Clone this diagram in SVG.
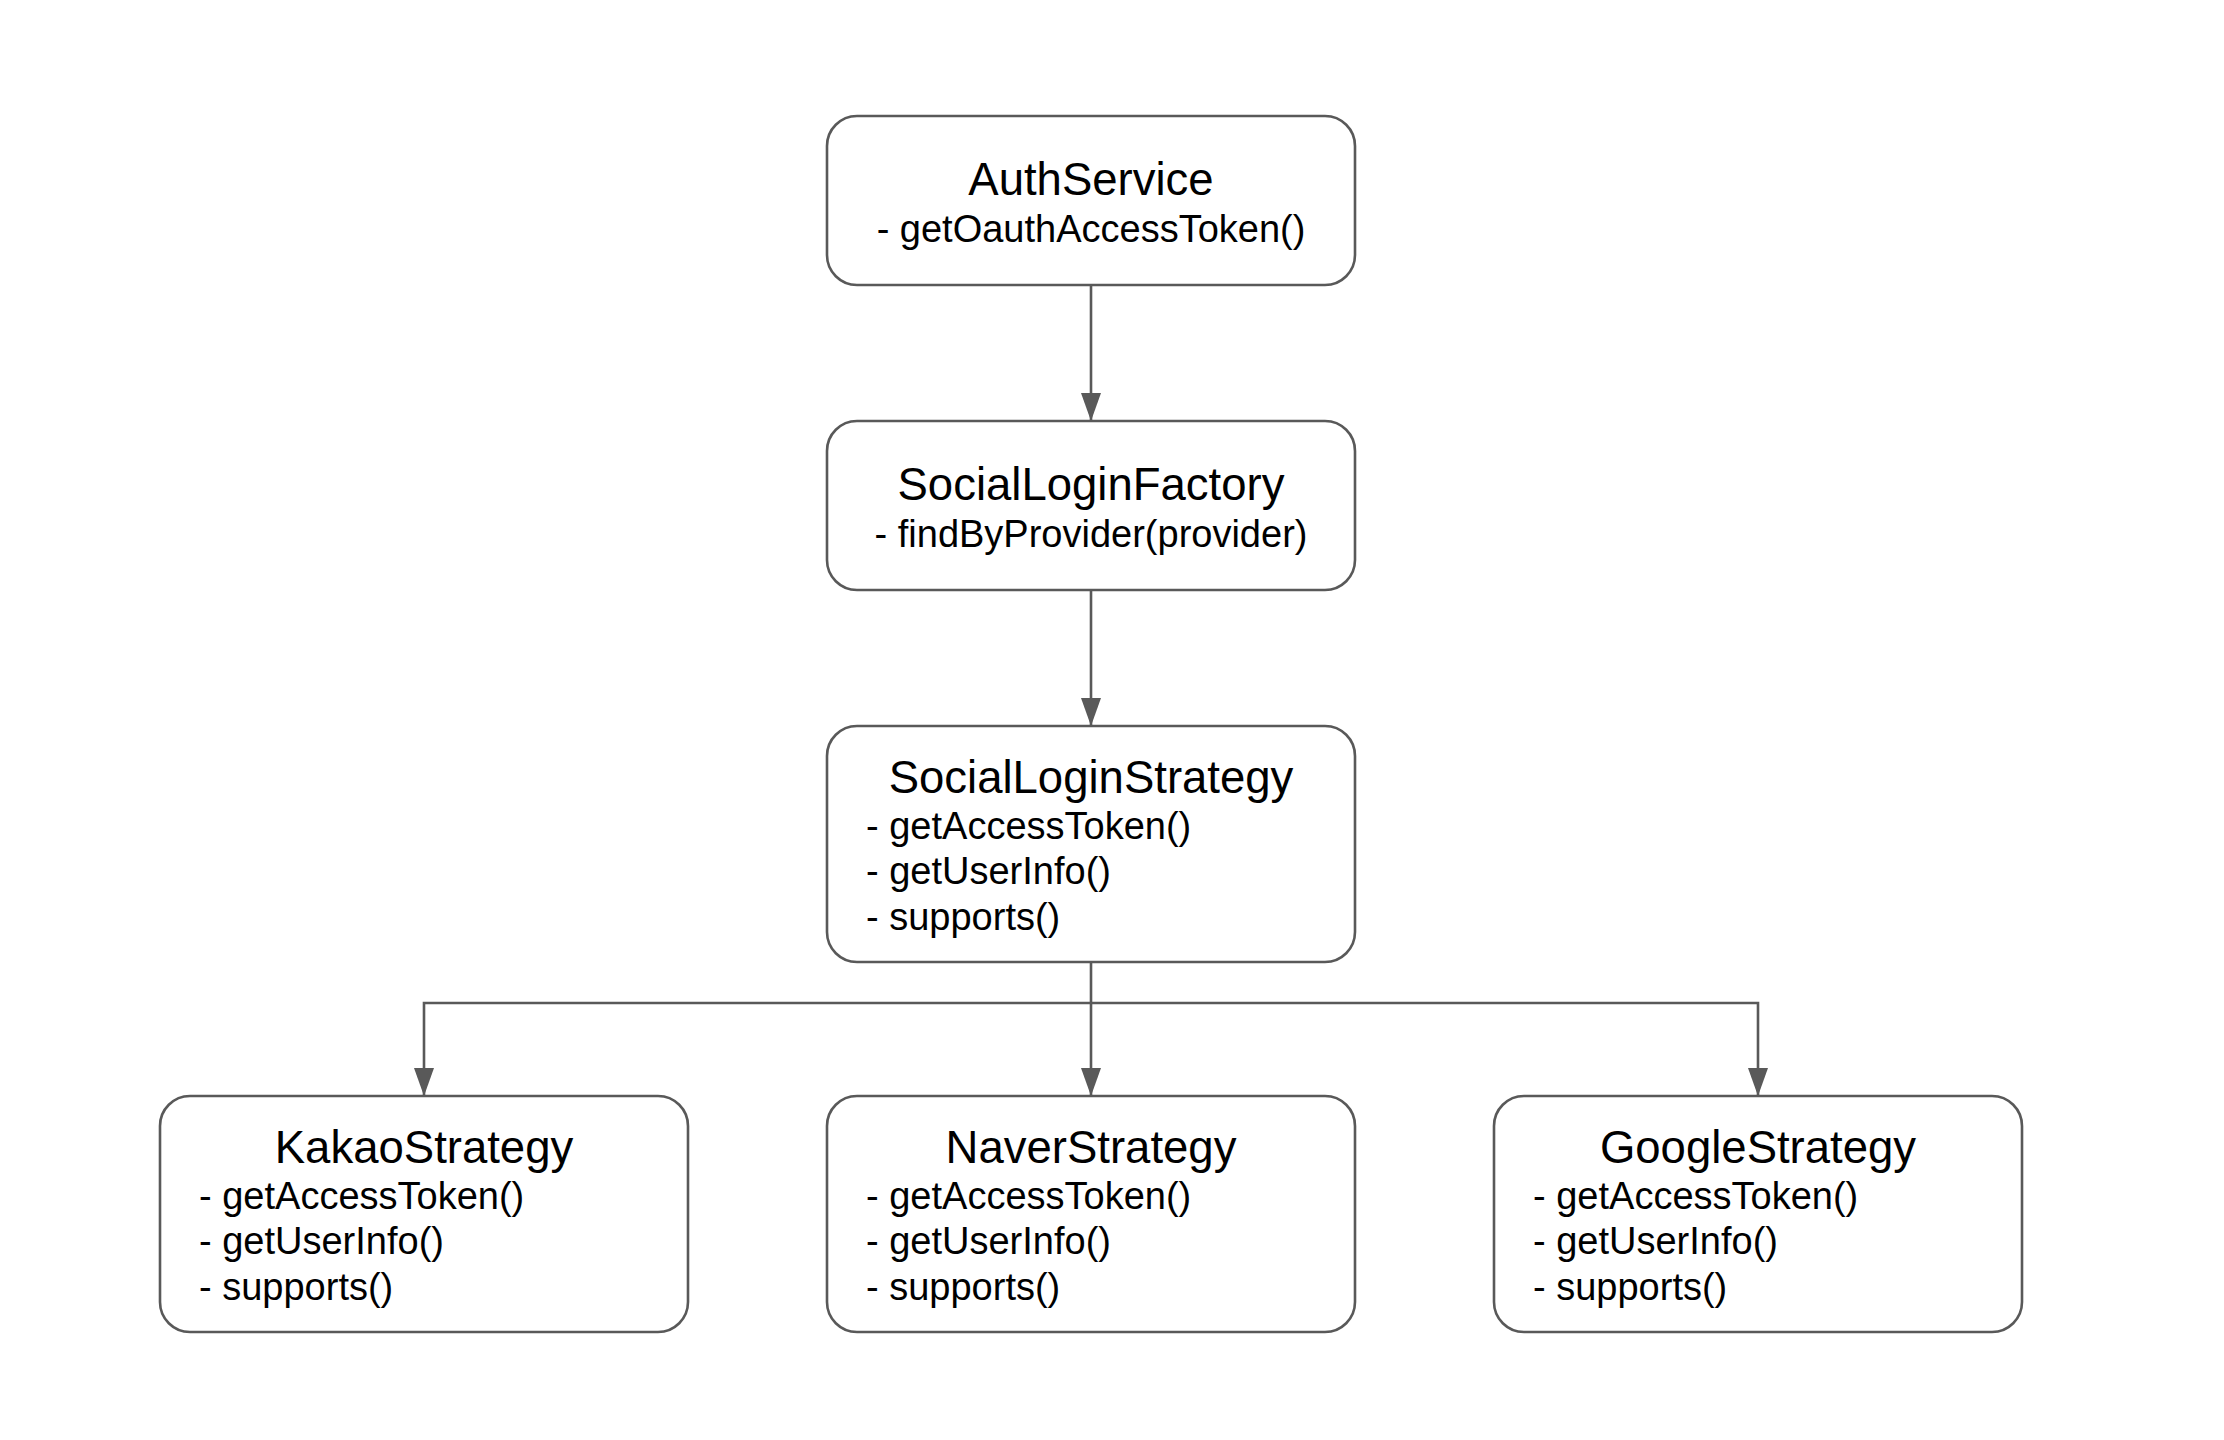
<svg xmlns="http://www.w3.org/2000/svg" width="2224" height="1440" viewBox="0 0 2224 1440">
<defs>
<style>
.box{fill:#ffffff;stroke:#595959;stroke-width:2.6}
.edge{fill:none;stroke:#595959;stroke-width:2.6}
.title{font-family:"Liberation Sans",Arial,sans-serif;font-size:45.5px;fill:#000000;text-anchor:middle}
.sub{font-family:"Liberation Sans",Arial,sans-serif;font-size:38px;fill:#000000;text-anchor:middle}
.m{font-family:"Liberation Sans",Arial,sans-serif;font-size:38px;fill:#000000}
</style>
<marker id="arr" markerUnits="userSpaceOnUse" markerWidth="28" markerHeight="20" refX="27" refY="10" viewBox="0 0 28 20" orient="auto">
<path d="M0,0 L28,10 L0,20 Z" fill="#595959"/>
</marker>
</defs>
<rect width="2224" height="1440" fill="#ffffff"/>
<g id="connectors">
<path class="edge" d="M1091,285 L1091,420" marker-end="url(#arr)"/>
<path class="edge" d="M1091,590 L1091,725" marker-end="url(#arr)"/>
<path class="edge" d="M1091,962 L1091,1095" marker-end="url(#arr)"/>
<path class="edge" d="M1091,1003 L424,1003 L424,1095" marker-end="url(#arr)"/>
<path class="edge" d="M1091,1003 L1758,1003 L1758,1095" marker-end="url(#arr)"/>
</g>
<g id="auth-service">
<rect class="box" x="827" y="116" width="528" height="169" rx="30"/>
<text class="title" x="1091" y="195">AuthService</text>
<text class="sub" x="1091" y="242">- getOauthAccessToken()</text>
</g>
<g id="social-login-factory">
<rect class="box" x="827" y="421" width="528" height="169" rx="30"/>
<text class="title" x="1091" y="500">SocialLoginFactory</text>
<text class="sub" x="1091" y="547">- findByProvider(provider)</text>
</g>
<g id="social-login-strategy">
<rect class="box" x="827" y="726" width="528" height="236" rx="30"/>
<text class="title" x="1091" y="793">SocialLoginStrategy</text>
<text class="m" x="866" y="839">- getAccessToken()</text>
<text class="m" x="866" y="884">- getUserInfo()</text>
<text class="m" x="866" y="930">- supports()</text>
</g>
<g id="kakao-strategy">
<rect class="box" x="160" y="1096" width="528" height="236" rx="30"/>
<text class="title" x="424" y="1163">KakaoStrategy</text>
<text class="m" x="199" y="1209">- getAccessToken()</text>
<text class="m" x="199" y="1254">- getUserInfo()</text>
<text class="m" x="199" y="1300">- supports()</text>
</g>
<g id="naver-strategy">
<rect class="box" x="827" y="1096" width="528" height="236" rx="30"/>
<text class="title" x="1091" y="1163">NaverStrategy</text>
<text class="m" x="866" y="1209">- getAccessToken()</text>
<text class="m" x="866" y="1254">- getUserInfo()</text>
<text class="m" x="866" y="1300">- supports()</text>
</g>
<g id="google-strategy">
<rect class="box" x="1494" y="1096" width="528" height="236" rx="30"/>
<text class="title" x="1758" y="1163">GoogleStrategy</text>
<text class="m" x="1533" y="1209">- getAccessToken()</text>
<text class="m" x="1533" y="1254">- getUserInfo()</text>
<text class="m" x="1533" y="1300">- supports()</text>
</g>
</svg>
